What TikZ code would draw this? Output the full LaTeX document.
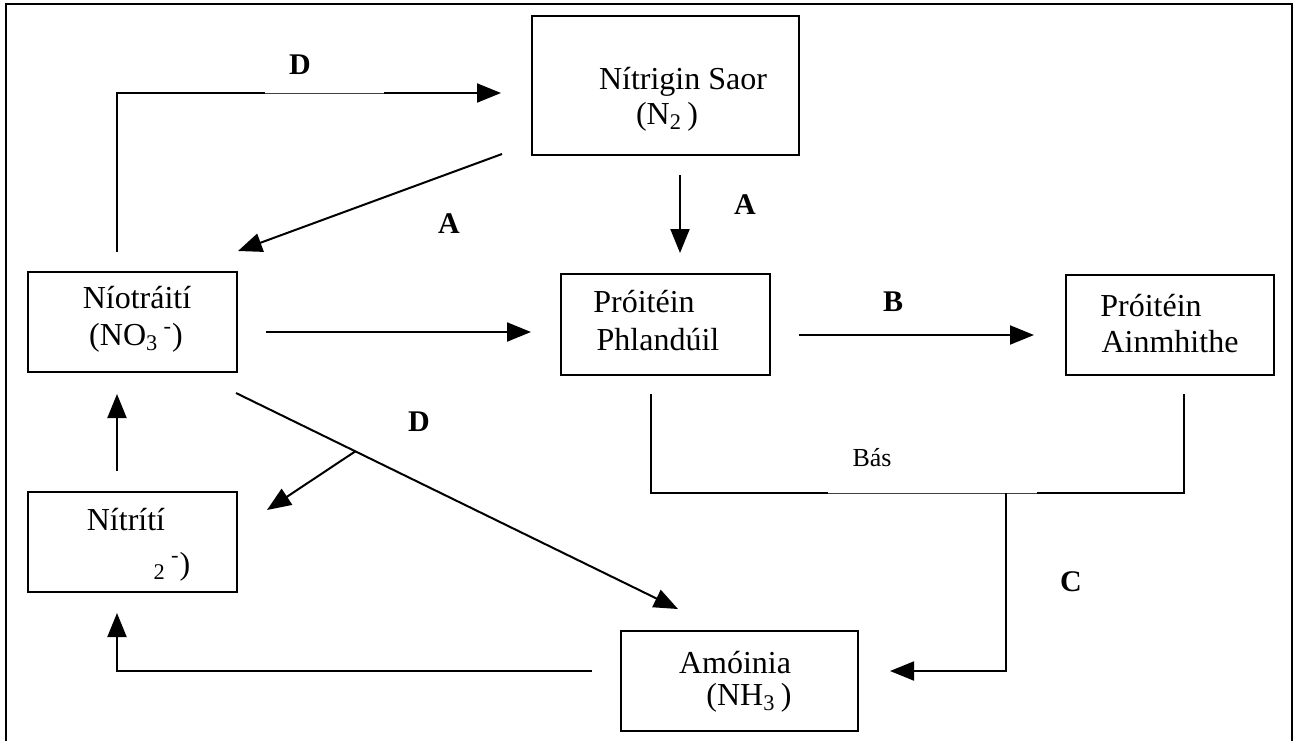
\documentclass[tikz,border=0pt]{standalone}
\usepackage{fontspec}
\setmainfont{Liberation Serif}
\usetikzlibrary{arrows.meta,calc}

\begin{document}
\begin{tikzpicture}[x=0.5pt,y=-0.5pt,
    box/.style={draw, line width=1pt, rectangle, inner sep=0pt},
    txt/.style={font=\fontsize{16}{19}\selectfont, inner sep=0pt},
    lbl/.style={font=\fontsize{15}{18}\selectfont\bfseries, inner sep=0pt},
    conn/.style={line width=1pt},
    arr/.style={line width=1pt, -{Triangle[length=12pt,width=9.5pt]}},
    faint/.style={line width=0.5pt, draw=black!75}
    ]
    \useasboundingbox (0,0) rectangle (1299,740);
    \draw[line width=1pt] (6,745) -- (6,4) -- (1292,4) -- (1292,745);

    \node[box, minimum width=133.5pt, minimum height=69.5pt] (n2) at (665.5,85.5) {};
    \node[box, minimum width=104.5pt, minimum height=50pt] (nio) at (132.5,322) {};
    \node[box, minimum width=104.5pt, minimum height=50.5pt] (pp) at (665.5,324.5) {};
    \node[box, minimum width=104pt, minimum height=50pt] (pa) at (1170,325) {};
    \node[box, minimum width=104.5pt, minimum height=50pt] (nit) at (132.5,542) {};
    \node[box, minimum width=118.5pt, minimum height=50pt] (amo) at (739.5,681) {};

    \node[txt] (n2a) at (683,82) {Nítrigin Saor};
    \node[txt] (n2b) at (667,117) {(N\textsubscript{2}\,)};
    \node[txt] (nioa) at (137,298) {Níotráití};
    \node[txt] (niob) at (136,338) {(NO\textsubscript{3}\,\textsuperscript{-})};
    \node[txt] (ppa) at (644,302) {Próitéin};
    \node[txt] (ppb) at (658,340) {Phlandúil};
    \node[txt] (paa) at (1151,306) {Próitéin};
    \node[txt] (pab) at (1170,342) {Ainmhithe};
    \node[txt] (nita) at (126,520) {Nítrítí};
    \node[txt] (nitb) at (172,567) {\textsubscript{2}\,\textsuperscript{-})};
    \node[txt] (amoa) at (735,663) {Amóinia};
    \node[txt] (amob) at (749,698) {(NH\textsubscript{3}\,)};

    \node[lbl] (dtop) at (300,65) {D};
    \node[lbl] (aleft) at (449,224) {A};
    \node[lbl] (adown) at (745,205) {A};
    \node[lbl] (blbl) at (893,302) {B};
    \node[lbl] (dmid) at (419,422) {D};
    \node[lbl] (clbl) at (1071,582) {C};
    \node[font=\fontsize{13}{16}\selectfont, inner sep=0pt] (bas) at (872,458) {Bás};

    \coordinate (d0) at ($(nio.north)+(-15.5,-19)$);
    \coordinate (d3) at ($(n2.west)+(-30,7.5)$);
    \coordinate (dA) at ($(d0 |- d3)+(148,0)$);
    \coordinate (dB) at ($(d0 |- d3)+(267,0)$);
    \draw[conn] (d0) |- (dA);
    \draw[faint] (dA) -- (dB);
    \draw[arr] (dB) -- (d3);

    \draw[arr] ($(n2.south west)+(-29,-2)$) -- ($(nio.north east)+(0,-20)$);
    \draw[arr] ($(n2.south)+(14.5,19)$) -- ($(pp.north)+(14.5,-20)$);
    \draw[arr] ($(nio.east)+(28,10)$) -- ($(pp.west)+(-29,7.5)$);
    \draw[arr] ($(pp.east)+(28,10.5)$) -- ($(pa.west)+(-31,10)$);
    \draw[arr] ($(nit.north)+(-15.5,-20)$) -- ($(nio.south)+(-15.5,21)$);

    \coordinate (g0) at ($(nio.south east)+(-2,20)$);
    \coordinate (g1) at ($(amo.north west)+(58,-21)$);
    \draw[arr] (g0) -- (g1);
    \draw[arr] ($(g0)!0.27!(g1)$) -- ($(nit.north east)+(29,19)$);

    \coordinate (b0) at ($(pp.south)+(-14.5,18)$);
    \coordinate (b3) at ($(pa.south)+(14,18)$);
    \draw[conn] (b0) -- ++(0,99) -- ++(177,0) coordinate (bA);
    \draw[faint] (bA) -- ++(209,0) coordinate (bB);
    \draw[conn] (bB) -| (b3);

    \draw[arr] ($(bA)+(178,0)$) |- ($(amo.east)+(31,-10)$);
    \draw[arr] ($(amo.west)+(-28,-10)$) -| ($(nit.south)+(-15.5,20)$);
  \end{tikzpicture}
\end{document}
